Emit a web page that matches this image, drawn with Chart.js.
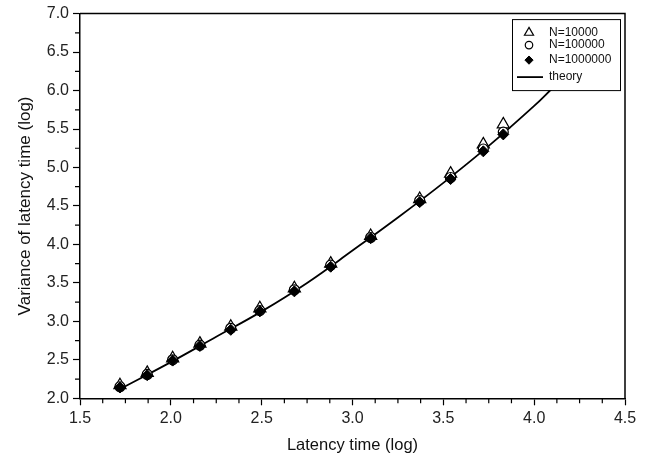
<!DOCTYPE html>
<html>
<head>
<meta charset="utf-8">
<script src="https://cdn.jsdelivr.net/npm/chart.js@4/dist/chart.umd.min.js"></script>
<style>
  body { margin: 0; background: #fff; }
  canvas { display: block; }
</style>
</head>
<body>
<canvas id="varChart" width="649" height="457"></canvas>
<script>
// latency time (log) of each measured point
const latency = [1.72, 1.87, 2.01, 2.16, 2.33, 2.49, 2.68, 2.88, 3.10, 3.37, 3.54, 3.72, 3.83];
// variance of latency time (log) for each run size
const varN10000   = [2.17, 2.33, 2.52, 2.71, 2.93, 3.17, 3.43, 3.75, 4.11, 4.59, 4.92, 5.30, 5.56];
const varN100000  = [2.15, 2.31, 2.50, 2.69, 2.91, 3.14, 3.41, 3.73, 4.09, 4.57, 4.87, 5.24, 5.46];
const varN1000000 = [2.14, 2.30, 2.49, 2.68, 2.89, 3.13, 3.39, 3.71, 4.08, 4.55, 4.85, 5.21, 5.43];
// theory curve
const theoryX = [1.72, 2.0, 2.25, 2.5, 2.75, 3.0, 3.25, 3.5, 3.75, 4.0, 4.1];
const theoryY = [2.12, 2.47, 2.80, 3.13, 3.50, 3.92, 4.35, 4.80, 5.28, 5.80, 6.03];
// axes
const xRange = [1.5, 4.5];
const yRange = [2.0, 7.0];

const toPts = (xs, ys) => xs.map((x, i) => ({ x: x, y: ys[i] }));

const FONT = "'Liberation Sans', Arial, Helvetica, sans-serif";

// minor ticks, top/right frame and the boxed legend inside the plot
const framePlugin = {
  id: 'frame',
  afterDraw(chart) {
    const c = chart.ctx;
    const a = chart.chartArea;
    const xs = chart.scales.x, ys = chart.scales.y;
    c.save();
    c.strokeStyle = '#000';
    c.lineWidth = 1.2;
    c.beginPath();
    for (let v = xRange[0]; v <= xRange[1] + 1e-9; v += 0.125) {
      if (Math.abs(v * 2 - Math.round(v * 2)) < 1e-6) continue;
      const px = xs.getPixelForValue(v);
      c.moveTo(px, a.bottom); c.lineTo(px, a.bottom + 5);
    }
    for (let v = yRange[0]; v <= yRange[1] + 1e-9; v += 0.25) {
      if (Math.abs(v * 2 - Math.round(v * 2)) < 1e-6) continue;
      const py = ys.getPixelForValue(v);
      c.moveTo(a.left, py); c.lineTo(a.left - 5, py);
    }
    c.stroke();
    c.lineWidth = 1.5;
    c.beginPath();
    c.moveTo(a.left, a.top); c.lineTo(a.right, a.top); c.lineTo(a.right, a.bottom);
    c.stroke();

    // legend box
    const lx = a.right - 113, ly = a.top + 5.5, lw = 108, lh = 71;
    c.fillStyle = '#fff';
    c.fillRect(lx, ly, lw, lh);
    c.lineWidth = 1;
    c.strokeRect(lx + 0.5, ly + 0.5, lw, lh);
    const rows = [13.5, 26, 41, 58];
    const mx = lx + 17, tx = lx + 37;
    c.font = '12px ' + FONT;
    c.textBaseline = 'middle';
    c.textAlign = 'left';
    chart.data.datasets.forEach((ds, i) => {
      const y = ly + rows[i];
      if (ds.showLine) {
        c.strokeStyle = '#000';
        c.lineWidth = 1.8;
        c.beginPath(); c.moveTo(lx + 5, y); c.lineTo(lx + 31, y); c.stroke();
      } else {
        c.fillStyle = ds.pointBackgroundColor;
        c.strokeStyle = ds.pointBorderColor;
        c.lineWidth = ds.pointBorderWidth;
        Chart.helpers.drawPoint(c, { pointStyle: ds.pointStyle, radius: ds.pointRadius * 0.75, borderWidth: ds.pointBorderWidth, rotation: 0 }, mx, y);
      }
      c.fillStyle = '#111';
      c.fillText(ds.label, tx, y);
    });
    c.restore();
  }
};

const ctx = document.getElementById('varChart').getContext('2d');

new Chart(ctx, {
  type: 'scatter',
  data: {
    datasets: [
      { label: 'N=10000', data: toPts(latency, varN10000), pointStyle: 'triangle', pointRadius: 7,
        pointBackgroundColor: '#fff', pointBorderColor: '#000', pointBorderWidth: 1.2, order: 3 },
      { label: 'N=100000', data: toPts(latency, varN100000), pointStyle: 'circle', pointRadius: 5,
        pointBackgroundColor: '#fff', pointBorderColor: '#000', pointBorderWidth: 1.2, order: 2 },
      { label: 'N=1000000', data: toPts(latency, varN1000000), pointStyle: 'rectRot', pointRadius: 5.5,
        pointBackgroundColor: '#000', pointBorderColor: '#000', pointBorderWidth: 1, order: 1 },
      { label: 'theory', data: toPts(theoryX, theoryY), showLine: true, pointRadius: 0,
        borderColor: '#000', borderWidth: 1.8, tension: 0.4, fill: false, order: 4 }
    ]
  },
  options: {
    responsive: false,
    animation: false,
    layout: { padding: { left: 15, top: 13, right: 24, bottom: 0 } },
    plugins: { legend: { display: false }, tooltip: { enabled: false } },
    scales: {
      x: {
        type: 'linear', min: xRange[0], max: xRange[1],
        afterFit: s => { s.height = 58.7; },
        border: { color: '#000', width: 1.5 },
        grid: { drawOnChartArea: false, tickLength: 7, tickColor: '#000', tickWidth: 1.2 },
        ticks: { stepSize: 0.5, padding: 4, color: '#222', font: { family: FONT, size: 16 },
                 maxRotation: 0, callback: v => v.toFixed(1) },
        title: { display: true, text: 'Latency time (log)', color: '#111',
                 font: { family: FONT, size: 16.5 }, padding: { top: 2, bottom: 2 } }
      },
      y: {
        type: 'linear', min: yRange[0], max: yRange[1],
        afterFit: s => { s.width = 65; },
        border: { color: '#000', width: 1.5 },
        grid: { drawOnChartArea: false, tickLength: 7, tickColor: '#000', tickWidth: 1.2 },
        ticks: { stepSize: 0.5, padding: 4, color: '#222', font: { family: FONT, size: 16 },
                 callback: v => v.toFixed(1) },
        title: { display: true, text: 'Variance of latency time (log)', color: '#111',
                 font: { family: FONT, size: 17 }, padding: { top: 0, bottom: 0 } }
      }
    }
  },
  plugins: [framePlugin]
});
</script>
</body>
</html>
